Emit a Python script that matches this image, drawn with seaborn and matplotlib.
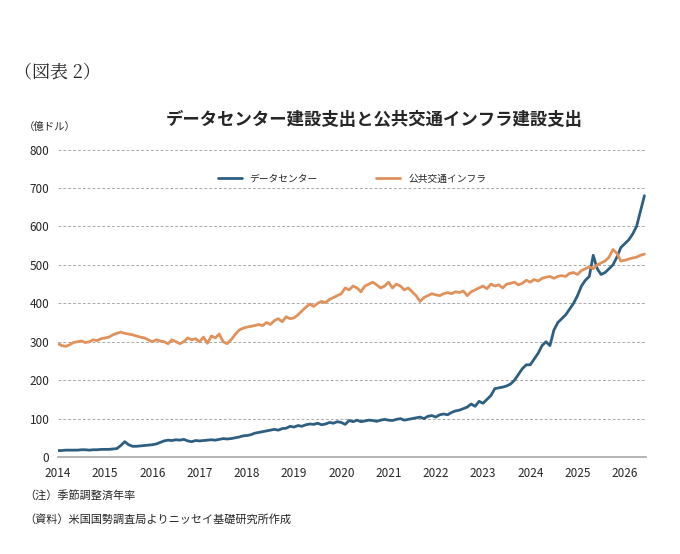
import numpy as np
import pandas as pd
import seaborn as sns
from matplotlib import pyplot as plt

# monthly values, Jan 2014 - Jun 2026 (100 million dollars, SAAR)
data_center = [
    17, 17, 18, 18, 18, 18, 19, 19, 18, 19, 19, 20,
    20, 20, 21, 22, 30, 40, 32, 28, 28, 29, 30, 31,
    32, 34, 38, 42, 44, 43, 45, 44, 46, 42, 40, 43,
    42, 43, 44, 45, 44, 46, 48, 47, 48, 50, 52, 55,
    56, 58, 62, 64, 66, 68, 70, 72, 70, 74, 75, 80,
    78, 82, 80, 84, 86, 85, 88, 84, 86, 90, 88, 92,
    90, 85, 95, 92, 96, 92, 94, 96, 95, 93, 96, 98,
    96, 95, 98, 100, 96, 98, 100, 102, 104, 100, 106, 108,
    104, 110, 112, 110, 116, 120, 122, 126, 130, 138, 132, 145,
    140, 150, 160, 178, 180, 182, 185, 190, 200, 215, 230, 240,
    240, 255, 270, 290, 300, 290, 330, 350, 360, 370, 385, 400,
    420, 445, 460, 470, 525, 490, 475, 480, 490, 500, 520, 545,
    555, 565, 580, 600, 640, 680,
]
transit = [
    295, 290, 288, 292, 298, 300, 302, 298, 300, 305, 303, 308,
    310, 312, 318, 322, 325, 322, 320, 318, 315, 312, 310, 305,
    300, 305, 302, 300, 295, 305, 300, 295, 300, 310, 305, 308,
    300, 312, 296, 315, 310, 320, 300, 295, 305, 318, 330, 335,
    338, 340, 342, 345, 342, 350, 345, 355, 360, 352, 365, 360,
    362, 370, 380, 390, 398, 392, 400, 405, 402, 410, 415, 420,
    425, 440, 435, 445, 440, 430, 445, 450, 455, 448, 440, 445,
    455, 440, 450, 445, 435, 440, 430, 420, 405, 415, 420, 425,
    422, 420, 425, 428, 425, 430, 428, 432, 420, 430, 435, 440,
    445, 438, 450, 445, 448, 440, 450, 452, 455, 448, 452, 460,
    455, 462, 458, 465, 468, 470, 465, 470, 472, 470, 478, 480,
    475, 485, 490, 495, 490, 500, 505, 510, 520, 540, 530, 510,
    512, 515, 518, 520, 525, 528,
]

dates = 2014 + np.arange(len(data_center)) / 12
df = pd.DataFrame({
    "date": np.concatenate([dates, dates]),
    "value": data_center + transit,
    "series": ["データセンター"] * len(dates) + ["公共交通インフラ"] * len(dates),
})

sns.set_theme(style="white")
plt.rcParams["font.family"] = ["Noto Sans CJK JP", "DejaVu Sans"]

fig = plt.figure(figsize=(6.8, 5.54), dpi=100)
ax = fig.add_axes([0.085, 0.175, 0.865, 0.555])
sns.lineplot(data=df, x="date", y="value", hue="series",
             palette=["#2f5f80", "#e0925c"], linewidth=2, ax=ax)

ax.set_xlim(2014, 2026.45)
ax.set_ylim(0, 800)
ax.set_xticks(range(2014, 2027))
ax.set_yticks(range(0, 801, 100))
ax.tick_params(labelsize=8.5, length=0)
ax.tick_params(axis="x", pad=7)
ax.tick_params(axis="y", pad=6)
ax.yaxis.grid(True, linestyle=(0, (3, 2)), color="#aaaaaa", linewidth=0.7)
for s in ["top", "right", "left"]:
    ax.spines[s].set_visible(False)
ax.spines["bottom"].set_color("#aaaaaa")
ax.set_xlabel("")
ax.set_ylabel("")
ax.legend(loc="upper center", bbox_to_anchor=(0.5, 0.95), ncol=2,
          frameon=False, fontsize=7, handlelength=2.5, columnspacing=6)

fig.text(0.02, 0.86, "（図表 2）", fontsize=13, family=["Noto Serif CJK JP", "Noto Sans CJK JP"])
fig.text(0.55, 0.775, "データセンター建設支出と公共交通インフラ建設支出",
         fontsize=12.5, fontweight="bold", ha="center")
fig.text(0.035, 0.765, "（億ドル）", fontsize=7.5)
fig.text(0.035, 0.10, "（注）季節調整済年率", fontsize=8)
fig.text(0.035, 0.057, "（資料）米国国勢調査局よりニッセイ基礎研究所作成", fontsize=8)

fig.savefig("out.png", dpi=100)
